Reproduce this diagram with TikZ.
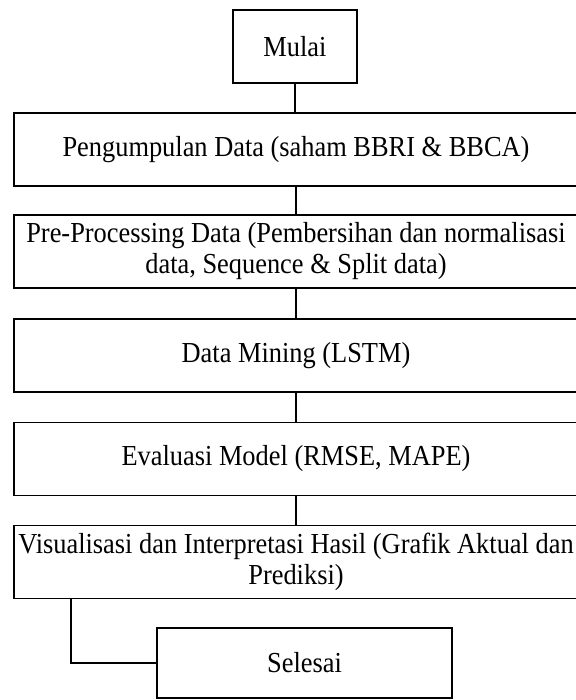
\documentclass[tikz,border=0pt]{standalone}
\usepackage{fontspec}
\setmainfont[FakeStretch=0.91]{Liberation Serif}
\usetikzlibrary{positioning}

\begin{document}
\begin{tikzpicture}[x=1pt, y=-1pt,
        box/.style={draw=black, line width=1.8pt, inner sep=0pt, align=center,
                minimum width=564pt, minimum height=73pt,
                font=\fontsize{29}{31}\selectfont},
        line/.style={line width=1.8pt}]
        	\useasboundingbox (0,0) rectangle (575,700);
        	\node [box, minimum width=124pt] (mulai) at (295,46.5) {Mulai};
        	\node [box] (kumpul) at (296,149.5) {Pengumpulan Data (saham BBRI \& BBCA)};
        	\node [box] (prepro) at (296,251.5) {Pre-Processing Data (Pembersihan dan normalisasi\\data, Sequence \& Split data)};
        	\node [box] (mining) at (296,355.5) {Data Mining (LSTM)};
        	\node [box] (evaluasi) at (296,459) {Evaluasi Model (RMSE, MAPE)};
        	\node [box] (visual) at (296,562) {Visualisasi dan Interpretasi Hasil (Grafik Aktual dan\\Prediksi)};
        	\node [box, minimum width=295pt, minimum height=70pt] (selesai) at (304.5,663) {Selesai};
        	\coordinate (belok) at (71,663);
        	\draw [line] (mulai.south) -- (mulai.south |- kumpul.north);
        	\draw [line] (kumpul.south) -- (prepro.north);
        	\draw [line] (prepro.south) -- (mining.north);
        	\draw [line] (mining.south) -- (evaluasi.north);
        	\draw [line] (evaluasi.south) -- (visual.north);
        	\draw [line] (visual.south -| belok) -- (belok) -- (selesai.west);
        \end{tikzpicture}
\end{document}
